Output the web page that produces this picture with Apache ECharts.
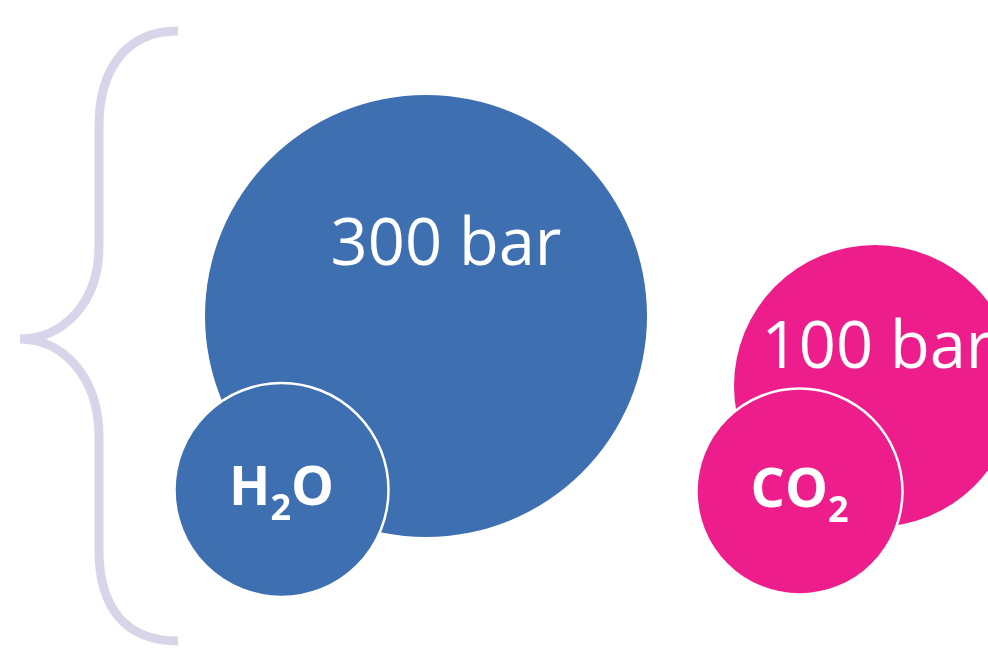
<!DOCTYPE html>
<html>
<head>
<meta charset="utf-8">
<script src="https://cdn.jsdelivr.net/npm/echarts@6/dist/echarts.min.js"></script>
<style>
  html, body { margin: 0; padding: 0; background: #ffffff; }
  #chart { width: 988px; height: 655px; }
</style>
</head>
<body>
<div id="chart"></div>
<script>
// Diagram units: x runs 0–98.8, y runs 0–65.5 downward.
const pressureLabels = ['300 bar', '100 bar'];
const pressureX = [42.6, 87.5];
const pressureY = [31.6, 38.6];
const pressureSize = [442, 282];

const gasLabels = ['H₂O', 'CO₂'];
const gasX = [28.15, 79.95];
const gasY = [49.0, 49.15];
const gasSize = [214, 206];

// Curly brace outline: start point, then cubic (C) and straight (L) segments.
const braceStart = [17.8, 3.1];
const braceSegments = [
  ['C', 12.4, 3.1, 9.9, 7.2, 9.9, 12.6],
  ['L', 9.9, 24.6],
  ['C', 9.9, 30.4, 6.2, 33.9, 2.0, 33.9],
  ['C', 6.2, 33.9, 9.9, 37.6, 9.9, 43.7],
  ['L', 9.9, 55.0],
  ['C', 9.9, 60.6, 12.4, 64.1, 17.8, 64.1]
];

const groupColors = ['#3E6FB1', '#EE1D8C'];
const braceColor = '#D8D5EA';
const pressureLabelOffsets = [[20, -70], [2, -37]];

function gasRich(name) {
  let out = '';
  for (const ch of name) {
    out += ch === '₂' ? '{s|2}' : '{m|' + ch + '}';
  }
  return out;
}

const chart = echarts.init(document.getElementById('chart'), null, { renderer: 'canvas' });

const option = {
  animation: false,
  backgroundColor: '#ffffff',
  grid: { left: 0, right: 0, top: 0, bottom: 0 },
  xAxis: { type: 'value', min: 0, max: 98.8, show: false },
  yAxis: { type: 'value', min: 0, max: 65.5, inverse: true, show: false },
  series: [
    {
      type: 'custom',
      name: 'brace',
      z: 1,
      silent: true,
      data: [[0, 0]],
      renderItem: function (params, api) {
        const p0 = api.coord(braceStart);
        let d = 'M' + p0[0] + ' ' + p0[1];
        for (const seg of braceSegments) {
          const pts = [];
          for (let i = 1; i < seg.length; i += 2) {
            const c = api.coord([seg[i], seg[i + 1]]);
            pts.push(c[0] + ' ' + c[1]);
          }
          d += ' ' + seg[0] + ' ' + pts.join(' ');
        }
        return {
          type: 'path',
          shape: { pathData: d },
          style: { fill: null, stroke: braceColor, lineWidth: 9, lineJoin: 'miter' }
        };
      }
    },
    {
      type: 'scatter',
      name: 'pressure',
      z: 2,
      silent: true,
      symbol: 'circle',
      data: pressureLabels.map(function (lab, i) {
        return {
          name: lab,
          value: [pressureX[i], pressureY[i], pressureSize[i]],
          itemStyle: { color: groupColors[i], opacity: 1 },
          label: { offset: pressureLabelOffsets[i] }
        };
      }),
      symbolSize: function (v) { return v[2]; },
      label: {
        show: true,
        position: 'inside',
        formatter: '{b}',
        color: '#ffffff',
        fontFamily: 'Open Sans',
        fontSize: 65
      }
    },
    {
      type: 'scatter',
      name: 'gas',
      z: 3,
      silent: true,
      symbol: 'circle',
      data: gasLabels.map(function (lab, i) {
        return {
          name: lab,
          value: [gasX[i], gasY[i], gasSize[i]],
          itemStyle: { color: groupColors[i], borderColor: '#ffffff', borderWidth: 2.5, opacity: 1 }
        };
      }),
      symbolSize: function (v) { return v[2]; },
      label: {
        show: true,
        position: 'inside',
        formatter: function (p) { return gasRich(p.name); },
        rich: {
          m: { color: '#ffffff', fontFamily: 'Open Sans', fontWeight: 'bold', fontSize: 54, lineHeight: 60 },
          s: { color: '#ffffff', fontFamily: 'Open Sans', fontWeight: 'bold', fontSize: 36, lineHeight: 36, padding: [40, 0, 0, 0] }
        }
      }
    }
  ]
};

chart.setOption(option);
</script>
</body>
</html>
